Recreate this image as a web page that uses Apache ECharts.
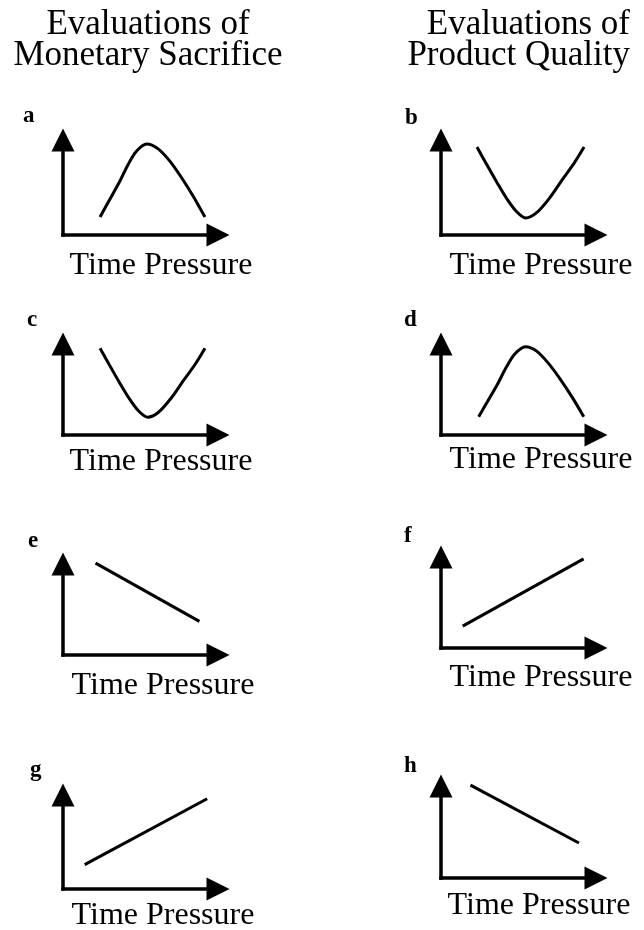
<!DOCTYPE html>
<html>
<head>
    <title>Time Pressure</title>
    <meta charset="utf-8">
    <script type="text/javascript" src="https://cdn.jsdelivr.net/npm/echarts@6/dist/echarts.min.js"></script>
    <style>
        body { margin: 0; background: #fff; }
    </style>
</head>
<body>
    <div id="main" style="width: 644px; height: 930px;"></div>
    <script type="text/javascript">
        // column headings and panel letters
        const columnTitles = [
            ['Evaluations of', 'Monetary Sacrifice'],
            ['Evaluations of', 'Product Quality']
        ];
        const panelLetters = ['a', 'b', 'c', 'd', 'e', 'f', 'g', 'h'];
        const xAxisLabel = 'Time Pressure';

        // schematic curves, x = time pressure (0-10), y = evaluation (0-10)
        const aTime = [2.39, 2.97, 3.63, 4.17, 4.71, 5.41, 6.12, 6.88, 7.65, 8.40, 9.16];
        const aEval = [1.89, 3.61, 5.55, 7.32, 8.77, 9.58, 9.09, 7.80, 6.03, 4.09, 1.89];
        const bTime = [2.32, 2.95, 3.60, 4.23, 4.87, 5.46, 6.15, 6.99, 7.84, 8.59, 9.23];
        const bEval = [9.26, 7.41, 5.56, 3.86, 2.47, 1.79, 2.32, 3.86, 5.86, 7.57, 9.26];
        const cTime = [2.39, 3.01, 3.64, 4.26, 4.88, 5.47, 6.14, 6.97, 7.81, 8.54, 9.16];
        const cEval = [9.53, 7.65, 5.77, 4.04, 2.64, 1.95, 2.47, 4.04, 6.08, 7.80, 9.53];
        const dTime = [2.43, 3.02, 3.67, 4.21, 4.76, 5.45, 6.17, 6.92, 7.69, 8.45, 9.21];
        const dEval = [2.01, 3.73, 5.66, 7.44, 8.90, 9.70, 9.22, 7.90, 6.15, 4.19, 2.01];
        const eTime = [2.1, 8.8];
        const eEval = [10.1, 3.7];
        const fTime = [1.4, 9.2];
        const fEval = [2.4, 9.8];
        const gTime = [1.4, 9.3];
        const gEval = [2.6, 9.6];
        const hTime = [1.9, 8.9];
        const hEval = [10.1, 3.8];

        const curves = [
            [aTime, aEval, true], [bTime, bEval, true],
            [cTime, cEval, true], [dTime, dEval, true],
            [eTime, eEval, false], [fTime, fEval, false],
            [gTime, gEval, false], [hTime, hEval, false]
        ];

        // layout: [left, top, height] of each plotting box, label spots
        const boxes = [
            [63, 140, 95], [441, 140, 95],
            [63, 344, 91], [441, 344, 91],
            [63, 564, 91], [441, 557, 91],
            [63, 795, 94], [441, 786, 92]
        ];
        const letterPos = [
            [23, 116], [405, 118], [27, 320], [404, 320],
            [28, 541], [404, 536], [30, 770], [404, 766]
        ];
        const labelPos = [
            [161, 266], [541, 266], [161, 462], [541, 460],
            [163, 686], [541, 678], [163, 916], [539, 906]
        ];
        const boxWidth = 155;
        const serif = '"Liberation Serif", "Times New Roman", serif';

        const chart = echarts.init(document.getElementById('main'));

        const axisBase = {
            type: 'value', min: 0, max: 10,
            axisLine: {
                show: true, onZero: false,
                symbol: ['none', 'triangle'], symbolSize: [23, 23],
                lineStyle: { color: '#000', width: 3.5, cap: 'square' }
            },
            axisTick: { show: false },
            axisLabel: { show: false },
            splitLine: { show: false }
        };

        const grid = [], xAxis = [], yAxis = [], series = [], graphic = [];
        boxes.forEach((b, i) => {
            grid.push({ left: b[0], top: b[1], width: boxWidth, height: b[2] });
            xAxis.push(Object.assign({ gridIndex: i }, axisBase));
            yAxis.push(Object.assign({ gridIndex: i }, axisBase));
            const c = curves[i];
            series.push({
                type: 'line', xAxisIndex: i, yAxisIndex: i,
                data: c[0].map((x, k) => [x, c[1][k]]),
                smooth: c[2] ? 0.3 : false, showSymbol: false, clip: false,
                lineStyle: { color: '#000', width: 3 }, silent: true
            });
            graphic.push({
                type: 'text', left: letterPos[i][0], y: letterPos[i][1],
                style: { text: panelLetters[i], font: 'bold 23px ' + serif, fill: '#000', verticalAlign: 'middle' }
            });
            graphic.push({
                type: 'text', x: labelPos[i][0], y: labelPos[i][1],
                style: { text: xAxisLabel, font: '32px ' + serif, fill: '#000', align: 'center', verticalAlign: 'middle' }
            });
        });

        // headings: left column centred, right column right-aligned
        const headPos = [[148, 'center'], [630, 'right']];
        columnTitles.forEach((lines, j) => {
            lines.forEach((t, k) => {
                graphic.push({
                    type: 'text', x: headPos[j][0], y: k === 0 ? 25 : 56,
                    style: { text: t, font: '35px ' + serif, fill: '#000', align: headPos[j][1], verticalAlign: 'middle' }
                });
            });
        });

        chart.setOption({
            backgroundColor: '#fff',
            animation: false,
            grid: grid,
            xAxis: xAxis,
            yAxis: yAxis,
            series: series,
            graphic: graphic
        });
    </script>
</body>
</html>
